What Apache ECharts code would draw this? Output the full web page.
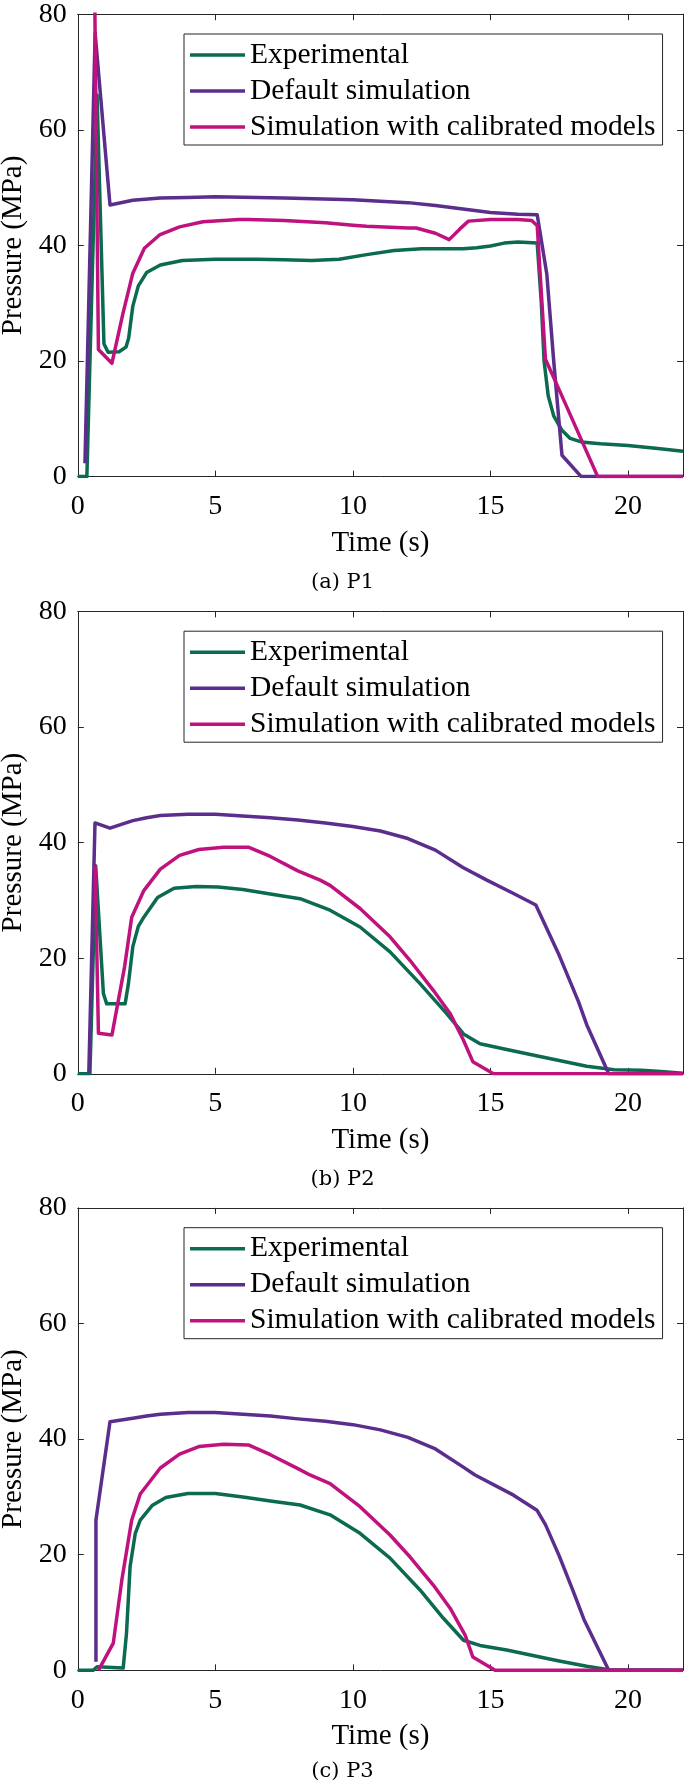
<!DOCTYPE html>
<html>
<head>
<meta charset="utf-8">
<script src="https://cdn.jsdelivr.net/npm/echarts@6/dist/echarts.min.js"></script>
<style>
  html, body { margin: 0; padding: 0; background: #fff; }
  #chart { width: 685px; height: 1787px; }
</style>
</head>
<body>
<div id="chart"></div>
<script>
// ---------------- DATA ----------------
const seriesNames = ['Experimental', 'Default simulation', 'Simulation with calibrated models'];
const captions = ['(a) P1', '(b) P2', '(c) P3'];
const xTickValues = [0, 5, 10, 15, 20];
const yTickValues = [0, 20, 40, 60, 80];

// P1
const p1ExpT = [0, 0.33, 0.7, 0.95, 1.1, 1.5, 1.75, 1.85, 2.0, 2.2, 2.5, 3.0, 3.8, 5.0, 6.5, 7.5, 8.5, 9.5, 10.5, 11.5, 12.5, 14.0, 14.5, 15.0, 15.5, 16.0, 16.7, 16.85, 16.95, 17.1, 17.3, 17.6, 17.9, 18.3, 19.0, 20.0, 21.0, 22.0];
const p1ExpP = [0, 0, 66, 23, 21.5, 21.6, 22.4, 24.0, 29.5, 33.0, 35.3, 36.6, 37.4, 37.6, 37.6, 37.5, 37.4, 37.6, 38.4, 39.1, 39.4, 39.4, 39.6, 39.9, 40.4, 40.6, 40.4, 30, 20, 14, 10.5, 8, 6.6, 6.0, 5.7, 5.4, 4.9, 4.4];
const p1DefT = [0.26, 0.63, 1.17, 2.0, 3.0, 4.0, 5.0, 7.5, 10, 12, 13, 14, 15, 16, 16.7, 17.05, 17.3, 17.6, 18.3, 22];
const p1DefP = [2.3, 76.7, 47.0, 47.8, 48.2, 48.3, 48.4, 48.2, 47.9, 47.4, 46.9, 46.3, 45.7, 45.4, 45.3, 35, 20, 3.7, 0, 0];
const p1CalT = [0.6, 0.75, 1.24, 1.64, 2.0, 2.42, 2.97, 3.7, 4.55, 5.87, 6.2, 7.5, 9.0, 10.0, 10.5, 12.0, 12.3, 13.0, 13.5, 13.9, 14.2, 15.0, 16.0, 16.5, 16.7, 17.0, 17.5, 18.9, 22];
const p1CalP = [90, 22, 19.6, 28.2, 35.2, 39.5, 41.8, 43.2, 44.1, 44.5, 44.5, 44.3, 43.9, 43.5, 43.3, 43.0, 43.0, 42.1, 41.0, 42.9, 44.2, 44.5, 44.5, 44.3, 43.4, 20.3, 15, 0, 0];

// P2
const p2ExpT = [0, 0.44, 0.65, 0.93, 1.05, 1.72, 1.84, 2.0, 2.2, 2.4, 2.9, 3.5, 4.3, 5.1, 6, 7, 8.08, 9.17, 10.26, 11.35, 12.44, 13.41, 14.02, 14.62, 15.59, 16.8, 17.5, 18.5, 19.5, 20.5, 21.2, 22];
const p2ExpP = [0, 0, 36, 13.9, 12.1, 12.1, 15.6, 22, 25.5, 27.1, 30.5, 32.1, 32.4, 32.3, 31.9, 31.1, 30.3, 28.3, 25.4, 21.1, 15.6, 10.4, 6.9, 5.2, 4.2, 3.0, 2.3, 1.3, 0.7, 0.6, 0.4, 0.1];
const p2DefT = [0.4, 0.625, 1.17, 2.0, 2.5, 3.0, 4.0, 5.0, 6, 7, 8, 9, 10, 11, 12, 13, 14, 14.87, 15.84, 16.65, 17.5, 18.2, 18.5, 19.3, 22];
const p2DefP = [0, 43.4, 42.5, 43.8, 44.3, 44.7, 44.9, 44.9, 44.6, 44.3, 43.9, 43.4, 42.8, 42.0, 40.7, 38.7, 35.7, 33.5, 31.2, 29.2, 20.5, 12.5, 8.5, 0, 0];
const p2CalT = [0.63, 0.75, 1.24, 1.7, 1.96, 2.4, 3.0, 3.7, 4.4, 5.3, 6.2, 7.0, 8.0, 8.81, 9.17, 10.26, 11.35, 12.08, 12.93, 13.54, 14.02, 14.36, 15.11, 22];
const p2CalP = [36, 7.0, 6.7, 18.5, 27.1, 31.7, 35.4, 37.8, 38.8, 39.2, 39.2, 37.6, 35.1, 33.5, 32.6, 28.6, 23.7, 19.6, 14.4, 10.4, 5.8, 2.1, 0, 0];

// P3
const p3ExpT = [0, 0.56, 0.7, 1.65, 1.77, 1.9, 2.09, 2.27, 2.7, 3.2, 4, 5, 6, 7, 8.08, 9.17, 10.26, 11.35, 12.44, 13.29, 14.02, 14.62, 15.59, 16.8, 17.5, 18.5, 19.3, 22];
const p3ExpP = [0, 0, 0.6, 0.4, 6.4, 17.9, 23.7, 26.0, 28.5, 29.9, 30.6, 30.6, 30.0, 29.3, 28.6, 26.9, 23.7, 19.4, 13.9, 9.0, 5.2, 4.3, 3.5, 2.3, 1.6, 0.7, 0.1, 0];
const p3DefT = [0.66, 0.66, 1.17, 2.0, 2.5, 3.0, 4.0, 5.0, 6, 7, 8, 9, 10, 11, 12, 13, 14, 14.44, 15.84, 16.69, 17, 17.5, 18, 18.4, 19.3, 22];
const p3DefP = [1.5, 26.0, 43, 43.6, 44.0, 44.3, 44.6, 44.6, 44.3, 44.0, 43.5, 43.1, 42.5, 41.6, 40.3, 38.3, 35.2, 33.8, 30.3, 27.7, 25.2, 19.8, 13.8, 8.8, 0, 0];
const p3CalT = [0.75, 1.29, 1.6, 1.96, 2.27, 3.0, 3.7, 4.4, 5.3, 6.2, 7.0, 8.0, 8.44, 9.17, 10.26, 11.35, 12.08, 12.93, 13.54, 14.08, 14.36, 15.17, 22];
const p3CalP = [0, 4.7, 15.6, 26.0, 30.5, 35.0, 37.4, 38.7, 39.1, 39.0, 37.3, 34.9, 33.8, 32.3, 28.3, 23.4, 19.6, 14.7, 10.7, 6.1, 2.3, 0, 0];

// ---------------- STYLE / LAYOUT ----------------
const colors = ['#0b6a50', '#5b2d8c', '#c0127e'];
const axisColor = '#262626';
const serif = "'Liberation Serif', 'Times New Roman', serif";
const gridTops = [14.2, 611.4, 1207.9];
const gridH = 462.4;
const gridLeft = 77.8;
const gridRight = 2;
const legendOffset = 19.8;
const captionTops = [572, 1169, 1761];

const panels = [
  [[p1ExpT, p1ExpP], [p1DefT, p1DefP], [p1CalT, p1CalP]],
  [[p2ExpT, p2ExpP], [p2DefT, p2DefP], [p2CalT, p2CalP]],
  [[p3ExpT, p3ExpP], [p3DefT, p3DefP], [p3CalT, p3CalP]]
];

function zip(t, p) { return t.map((v, i) => [v, p[i]]); }

const grid = [], xAxis = [], yAxis = [], series = [], legend = [], title = [];

panels.forEach((panel, k) => {
  grid.push({ left: gridLeft, right: gridRight, top: gridTops[k], height: gridH, containLabel: false, outerBoundsMode: 'none' });
  const baseX = {
    gridIndex: k, type: 'value', min: 0, max: 22, interval: 5,
    axisLine: { show: true, onZero: false, lineStyle: { color: axisColor, width: 1 } },
    axisTick: { show: true, inside: true, length: 6, lineStyle: { color: axisColor, width: 1 } },
    splitLine: { show: false }
  };
  xAxis.push(Object.assign({}, baseX, {
    position: 'bottom',
    name: 'Time (s)', nameLocation: 'middle', nameGap: 52,
    nameTextStyle: { fontFamily: serif, fontSize: 29, color: '#000' },
    axisLabel: { show: true, fontFamily: serif, fontSize: 28, color: '#000', margin: 16, showMaxLabel: false }
  }));
  xAxis.push(Object.assign({}, baseX, { position: 'top', axisLabel: { show: false } }));
  const baseY = {
    gridIndex: k, type: 'value', min: 0, max: 80, interval: 20,
    axisLine: { show: true, onZero: false, lineStyle: { color: axisColor, width: 1 } },
    axisTick: { show: true, inside: true, length: 6, lineStyle: { color: axisColor, width: 1 } },
    splitLine: { show: false }
  };
  yAxis.push(Object.assign({}, baseY, {
    position: 'left',
    name: 'Pressure (MPa)', nameLocation: 'middle', nameGap: 47,
    nameTextStyle: { fontFamily: serif, fontSize: 29, color: '#000' },
    axisLabel: { show: true, fontFamily: serif, fontSize: 28, color: '#000', margin: 11 }
  }));
  yAxis.push(Object.assign({}, baseY, { position: 'right', axisLabel: { show: false } }));

  panel.forEach((s, j) => {
    series.push({
      name: seriesNames[j], type: 'line', xAxisIndex: 2 * k, yAxisIndex: 2 * k,
      data: zip(s[0], s[1]), showSymbol: false, symbol: 'none', clip: true,
      lineStyle: { color: colors[j], width: 3.5, join: 'round' },
      itemStyle: { color: colors[j] }, z: 2 + j, animation: false
    });
  });

  legend.push({
    left: 184, top: gridTops[k] + legendOffset, orient: 'vertical',
    icon: 'rect', itemWidth: 55, itemHeight: 3.5, itemGap: 2,
    padding: [4, 7, 1, 6], borderColor: axisColor, borderWidth: 1, backgroundColor: '#fff',
    selectedMode: false,
    textStyle: { fontFamily: serif, fontSize: 29.5, lineHeight: 34, color: '#000' },
    data: seriesNames
  });

  title.push({
    text: captions[k], left: 'center', top: captionTops[k], padding: 0,
    textStyle: { fontFamily: "'DejaVu Serif', serif", fontSize: 21, fontWeight: 'normal', color: '#000' }
  });
});

const chart = echarts.init(document.getElementById('chart'), null, { renderer: 'canvas' });
chart.setOption({
  animation: false,
  backgroundColor: '#fff',
  title, grid, xAxis, yAxis, legend, series
});
</script>
</body>
</html>
